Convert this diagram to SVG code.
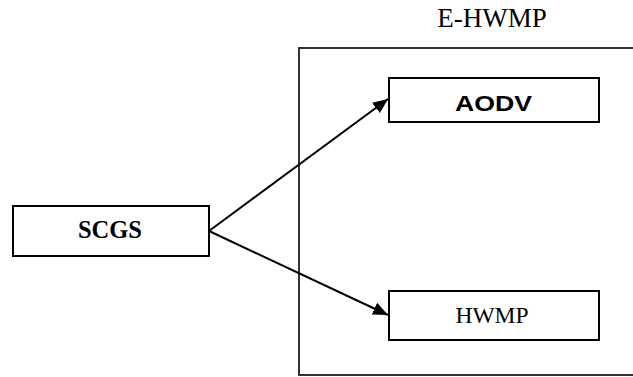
<svg xmlns="http://www.w3.org/2000/svg" width="633" height="377" viewBox="0 0 633 377">
  <defs>
    <marker id="arrow" markerWidth="15" markerHeight="13" refX="15" refY="6.5" orient="auto" markerUnits="userSpaceOnUse">
      <path d="M0,0 L15,6.5 L0,13 Z" fill="#000"/>
    </marker>
    <style>
      .box { fill: #fff; stroke: #000; stroke-width: 2; }
      .frame { fill: none; stroke: #333; stroke-width: 2; }
      .serif { font-family: "Liberation Serif", "Times New Roman", "DejaVu Serif", serif; fill: #000; }
      .sans { font-family: "Liberation Sans", Arial, sans-serif; fill: #000; }
      .edge { stroke: #000; stroke-width: 2; fill: none; }
    </style>
  </defs>
  <rect width="633" height="377" fill="#fff"/>

  <!-- E-HWMP container, open past the right edge -->
  <g id="ehwmp">
    <rect class="frame" x="299" y="48" width="360" height="327"/>
    <text class="serif" x="492" y="27" font-size="27" text-anchor="middle">E-HWMP</text>
  </g>

  <g id="scgs">
    <rect class="box" x="13" y="206" width="196" height="50"/>
    <text class="serif" font-family="Liberation Serif, serif" x="110" y="238" font-size="24.5" font-weight="700" text-anchor="middle">SCGS</text>
  </g>

  <g id="aodv">
    <rect class="box" x="389" y="78" width="210" height="44"/>
    <text class="sans" x="455" y="110.5" font-size="21.5" font-weight="bold" textLength="77" lengthAdjust="spacingAndGlyphs">AODV</text>
  </g>

  <g id="hwmp">
    <rect class="box" x="389" y="291" width="210" height="49"/>
    <text class="serif" x="492" y="323" font-size="23.5" text-anchor="middle">HWMP</text>
  </g>

  <g id="connectors">
    <line class="edge" x1="209" y1="231" x2="388" y2="99" marker-end="url(#arrow)"/>
    <line class="edge" x1="209" y1="231" x2="388" y2="315" marker-end="url(#arrow)"/>
  </g>
</svg>
